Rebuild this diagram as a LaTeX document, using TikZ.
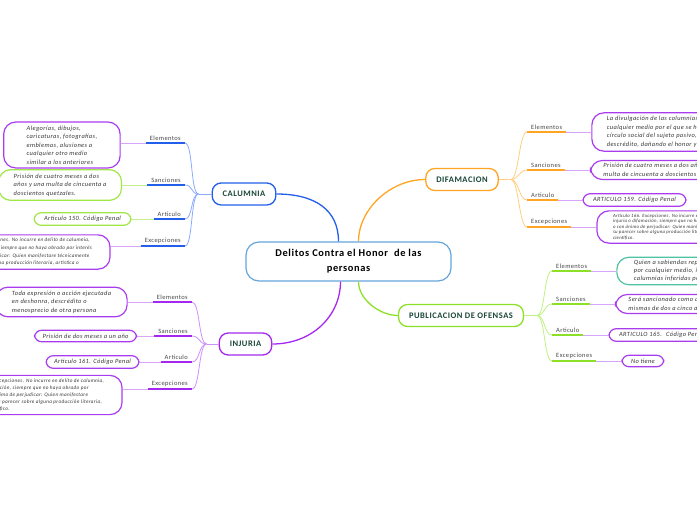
\documentclass[tikz,border=0pt]{standalone}
\usepackage{fontspec}
\setmainfont{Carlito}[LetterSpace=6]
\usetikzlibrary{positioning}
\definecolor{ctrblue}{RGB}{100,165,220}
\definecolor{calblue}{RGB}{35,95,235}
\definecolor{calblueL}{RGB}{140,170,255}
\definecolor{injpurple}{RGB}{165,40,240}
\definecolor{injpurpleL}{RGB}{205,145,250}
\definecolor{difor}{RGB}{255,165,35}
\definecolor{diforL}{RGB}{255,205,130}
\definecolor{pubgreen}{RGB}{140,225,40}
\definecolor{pubgreenL}{RGB}{190,240,130}
\definecolor{boxpurple}{RGB}{170,60,240}
\definecolor{linkpurple}{RGB}{215,165,250}
\definecolor{boxgreen}{RGB}{160,230,70}
\definecolor{linkgreen}{RGB}{195,240,140}
\definecolor{boxteal}{RGB}{80,195,165}
\definecolor{titlegreen}{RGB}{25,70,55}
\definecolor{lblgray}{RGB}{70,70,70}
\definecolor{txtgray}{RGB}{55,55,55}
\tikzset{
    tema/.style={rectangle, rounded corners=9pt, draw=#1, line width=1.3pt, fill=white, text=titlegreen, font=\fontsize{8.5}{10}\selectfont\bfseries, minimum height=22pt, inner xsep=10.5pt},
    rama/.style={line width=1.3pt},
    ramita/.style={line width=0.8pt},
    etiqueta/.style={text=lblgray, font=\fontsize{6.5}{8}\selectfont, inner xsep=4pt, inner ysep=2pt},
    subraya/.style={line width=1.7pt, draw=#1},
    enlace/.style={line width=0.8pt, draw=#1},
    caja/.style={rectangle, rounded corners=7pt, draw=#1, line width=1.2pt, fill=white, text=txtgray, font=\fontsize{6.4}{8.6}\selectfont\itshape, inner ysep=3.5pt, inner xsep=10pt},
    cajagrande/.style={caja=#1, rounded corners=12pt, align=left},
    nota/.style={cajagrande=boxpurple, font=\fontsize{5.2}{7.6}\selectfont\itshape}
}
\begin{document}
\begin{tikzpicture}[x=1pt, y=-1pt]
    \useasboundingbox (0,0) rectangle (697,520);
    \clip (0,0) rectangle (697,520);

    % centro y temas
    \node (ctr) [rectangle, rounded corners=13pt, draw=ctrblue, line width=1.2pt, fill=white, minimum width=205pt, minimum height=39pt, align=center, font=\fontsize{10.4}{15}\selectfont\bfseries] at (348.5,261.5) {Delitos Contra el Honor~ de las\\personas};
    \node (cal) [tema=calblue] at (244,194) {CALUMNIA};
    \node (inj) [tema=injpurple] at (245.5,344) {INJURIA};
    \node (dif) [tema=difor] at (462,179.5) {DIFAMACION};
    \node (pub) [tema=pubgreen] at (461,315.5) {PUBLICACION DE OFENSAS};

    \coordinate (ctrnw) at ([xshift=-10pt]ctr.north);
    \coordinate (ctrne) at ([xshift=10pt]ctr.north);
    \coordinate (ctrsw) at ([xshift=-8pt]ctr.south);
    \coordinate (ctrse) at ([xshift=10pt]ctr.south);
    \draw [rama, calblue] (cal.east) .. controls +(38,0) and +(0,-32) .. (ctrnw);
    \draw [rama, difor] (ctrne) .. controls +(0,-32) and +(-35,0) .. (dif.west);
    \draw [rama, injpurple] (ctrsw) .. controls +(0,34) and +(40,0) .. (inj.east);
    \draw [rama, pubgreen] (ctrse) .. controls +(0,18) and +(-18,0) .. (pub.west);

    % CALUMNIA
    \node (cl1) [etiqueta, anchor=south east] at (185,143) {Elementos};
    \node (cl2) [etiqueta, anchor=south east] at (185,185) {Sanciones};
    \node (cl3) [etiqueta, anchor=south east] at (185,219) {Articulo};
    \node (cl4) [etiqueta, anchor=south east] at (185,246) {Excepciones};
    \coordinate (cj) at ([xshift=-13pt]cal.west);
    \draw [ramita, calblueL] (cal.west) -- (cj);
    \draw [ramita, calblueL] (cj) .. controls +(-8,0) and +(8,0) .. (cl1.south east);
    \draw [ramita, calblueL] (cj) .. controls +(-8,0) and +(8,0) .. (cl2.south east);
    \draw [ramita, calblueL] (cj) .. controls +(-8,0) and +(8,0) .. (cl3.south east);
    \draw [ramita, calblueL] (cj) .. controls +(-8,0) and +(8,0) .. (cl4.south east);
    \draw [subraya=calblue] (cl1.south west) -- (cl1.south east);
    \draw [subraya=calblue] (cl2.south west) -- (cl2.south east);
    \draw [subraya=calblue] (cl3.south west) -- (cl3.south east);
    \draw [subraya=calblue] (cl4.south west) -- (cl4.south east);

    \node (cb1) [cajagrande=boxpurple, inner xsep=23pt, left=25pt of cl1.south west, yshift=-2pt] {Alegorías, dibujos,\\caricaturas, fotografías,\\emblemas, alusiones a\\cualquier otro medio\\similar a los anteriores};
    \node (cb2) [cajagrande=boxgreen, inner xsep=15pt, inner ysep=4pt, left=25pt of cl2.south west] {Prisión de cuatro meses a dos\\años y una multa de cincuenta a\\doscientos quetzales.};
    \node (cb3) [caja=boxgreen, left=22pt of cl3.south west] {Articulo 150. Código Penal};
    \node (cb4) [nota, inner xsep=18pt, left=30pt of cl4.south west, yshift=-6pt] {Articulo 166. Excepciones. No incurre en delito de calumnia,\\injuria o difamación, siempre que no haya obrado por interés\\o con ánimo de perjudicar: Quien manifestare técnicamente\\su parecer sobre alguna producción literaria, artística o};
    \draw [enlace=linkpurple] (cl1.south west) -- (cl1.south west -| cb1.east);
    \draw [enlace=linkgreen] (cl2.south west) -- (cb2.east);
    \draw [enlace=linkgreen] (cl3.south west) -- (cb3.east);
    \draw [enlace=linkpurple] (cl4.south west) -- (cl4.south west -| cb4.east);

    % INJURIA
    \node (il1) [etiqueta, anchor=south east] at (192,302) {Elementos};
    \node (il2) [etiqueta, anchor=south east] at (192,336) {Sanciones};
    \node (il3) [etiqueta, anchor=south east] at (192,362) {Articulo};
    \node (il4) [etiqueta, anchor=south east] at (192,389) {Excepciones};
    \coordinate (ij) at ([xshift=-12pt]inj.west);
    \draw [ramita, injpurpleL] (inj.west) -- (ij);
    \draw [ramita, injpurpleL] (ij) .. controls +(-8,0) and +(8,0) .. (il1.south east);
    \draw [ramita, injpurpleL] (ij) .. controls +(-8,0) and +(8,0) .. (il2.south east);
    \draw [ramita, injpurpleL] (ij) .. controls +(-8,0) and +(8,0) .. (il3.south east);
    \draw [ramita, injpurpleL] (ij) .. controls +(-8,0) and +(8,0) .. (il4.south east);
    \draw [subraya=injpurple] (il1.south west) -- (il1.south east);
    \draw [subraya=injpurple] (il2.south west) -- (il2.south east);
    \draw [subraya=injpurple] (il3.south west) -- (il3.south east);
    \draw [subraya=injpurple] (il4.south west) -- (il4.south east);

    \node (ib1) [cajagrande=boxpurple, inner xsep=16pt, left=25pt of il1.south west] {Toda expresión o acción ejecutada\\en deshonra, descrédito o\\menosprecio de otra persona};
    \node (ib2) [caja=boxpurple, inner xsep=8pt, left=17pt of il2.south west] {Prisión de dos meses a un año};
    \node (ib3) [caja=boxpurple, inner xsep=8pt, left=21pt of il3.south west] {Articulo 161. Código Penal};
    \node (ib4) [nota, inner xsep=18pt, font=\fontsize{5.2}{7}\selectfont\itshape, left=25pt of il4.south west, yshift=-6pt] {Articulo 166. Excepciones. No incurre en delito de calumnia,\\injuria o difamación, siempre que no haya obrado por\\interés o con ánimo de perjudicar: Quien manifestare\\técnicamente su parecer sobre alguna producción literaria,\\artística o científico.};
    \draw [enlace=linkpurple] (il1.south west) -- (ib1.east);
    \draw [enlace=linkpurple] (il2.south west) -- (ib2.east);
    \draw [enlace=linkpurple] (il3.south west) -- (ib3.east);
    \draw [enlace=linkpurple] (il4.south west) -- (il4.south west -| ib4.east);

    % DIFAMACION
    \node (dl1) [etiqueta, anchor=south west] at (527,132) {Elementos};
    \node (dl2) [etiqueta, anchor=south west] at (527,170) {Sanciones};
    \node (dl3) [etiqueta, anchor=south west] at (527,200) {Articulo};
    \node (dl4) [etiqueta, anchor=south west] at (527,227) {Excepciones};
    \coordinate (dj) at ([xshift=12pt]dif.east);
    \draw [ramita, diforL] (dif.east) -- (dj);
    \draw [ramita, diforL] (dj) .. controls +(8,0) and +(-8,0) .. (dl1.south west);
    \draw [ramita, diforL] (dj) .. controls +(8,0) and +(-8,0) .. (dl2.south west);
    \draw [ramita, diforL] (dj) .. controls +(8,0) and +(-8,0) .. (dl3.south west);
    \draw [ramita, diforL] (dj) .. controls +(8,0) and +(-8,0) .. (dl4.south west);
    \draw [subraya=difor] (dl1.south west) -- (dl1.south east);
    \draw [subraya=difor] (dl2.south west) -- (dl2.south east);
    \draw [subraya=difor] (dl3.south west) -- (dl3.south east);
    \draw [subraya=difor] (dl4.south west) -- (dl4.south east);

    \node (db1) [cajagrande=boxpurple, inner xsep=15pt, right=25pt of dl1.south east] {La divulgación de las columnias o injurias por\\cualquier medio por el que se haga llegar al\\círculo social del sujeto pasivo, generando\\descrédito, dañando el honor y dignidad.};
    \node (db2) [cajagrande=boxpurple, inner xsep=13pt, inner ysep=2.5pt, right=25pt of dl2.south east] {Prisión de cuatro meses a dos años y\\multa de cincuenta a doscientos quetzales.};
    \node (db3) [caja=boxpurple, right=24pt of dl3.south east] {ARTICULO 159. Código Penal};
    \node (db4) [nota, inner xsep=16pt, inner ysep=3pt, font=\fontsize{4.8}{5.6}\selectfont\itshape, right=25pt of dl4.south east] {Articulo 166. Excepciones. No incurre en delito de calumnia,\\injuria o difamación, siempre que no haya obrado por interés\\o con ánimo de perjudicar: Quien manifestare técnicamente\\su parecer sobre alguna producción literaria, artística o\\científico.};
    \draw [enlace=linkpurple] (dl1.south east) -- (db1.west);
    \draw [enlace=linkpurple] (dl2.south east) -- (db2.west);
    \draw [enlace=linkpurple] (dl3.south east) -- (db3.west);
    \draw [enlace=linkpurple] (dl4.south east) -- (db4.west);

    % PUBLICACION DE OFENSAS
    \node (pl1) [etiqueta, anchor=south west] at (552,271) {Elementos};
    \node (pl2) [etiqueta, anchor=south west] at (552,304) {Sanciones};
    \node (pl3) [etiqueta, anchor=south west] at (552,335) {Articulo};
    \node (pl4) [etiqueta, anchor=south west] at (552,361) {Excepciones};
    \coordinate (pj) at ([xshift=13pt]pub.east);
    \draw [ramita, pubgreenL] (pub.east) -- (pj);
    \draw [ramita, pubgreenL] (pj) .. controls +(8,0) and +(-8,0) .. (pl1.south west);
    \draw [ramita, pubgreenL] (pj) .. controls +(8,0) and +(-8,0) .. (pl2.south west);
    \draw [ramita, pubgreenL] (pj) .. controls +(8,0) and +(-8,0) .. (pl3.south west);
    \draw [ramita, pubgreenL] (pj) .. controls +(8,0) and +(-8,0) .. (pl4.south west);
    \draw [subraya=pubgreen] (pl1.south west) -- (pl1.south east);
    \draw [subraya=pubgreen] (pl2.south west) -- (pl2.south east);
    \draw [subraya=pubgreen] (pl3.south west) -- (pl3.south east);
    \draw [subraya=pubgreen] (pl4.south west) -- (pl4.south east);

    \node (pb1) [cajagrande=boxteal, inner xsep=17pt, inner ysep=3pt, font=\fontsize{6.4}{8}\selectfont\itshape, right=25pt of pl1.south east] {Quien a sabiendas reprodujere\\por cualquier medio, injurias o\\calumnias inferidas por otro};
    \node (pb2) [cajagrande=boxpurple, inner xsep=13pt, inner ysep=3pt, right=25pt of pl2.south east] {Será sancionado como autor de las\\mismas de dos a cinco años};
    \node (pb3) [caja=boxpurple, right=25pt of pl3.south east] {ARTICULO 165.~ Código Penal};
    \node (pb4) [caja=boxpurple, inner xsep=9pt, right=25pt of pl4.south east] {No tiene};
    \draw [enlace=linkpurple] (pl1.south east) -- (pb1.west);
    \draw [enlace=linkpurple] (pl2.south east) -- (pb2.west);
    \draw [enlace=linkpurple] (pl3.south east) -- (pb3.west);
    \draw [enlace=linkpurple] (pl4.south east) -- (pb4.west);
\end{tikzpicture}
\end{document}
